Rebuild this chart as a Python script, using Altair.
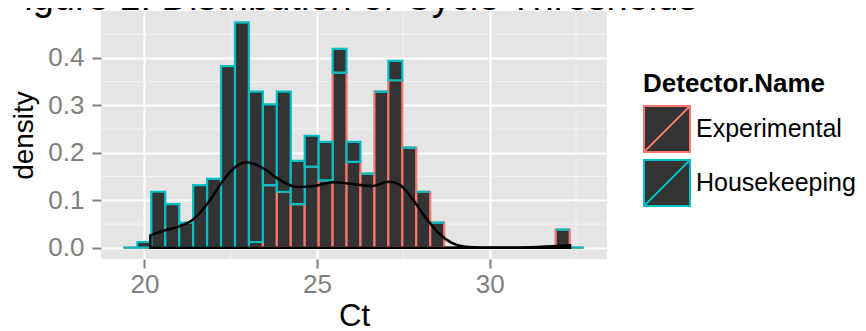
import altair as alt
import pandas as pd

FONT = "Liberation Sans"

title_text = ["Figure 1: Distribution of Cycle Thresholds"]

# Histogram bins (Ct) and stacked densities
bin_start = 19.39
bin_width = 0.404
groups = ["Experimental", "Housekeeping"]
experimental = [0, 0, 0, 0, 0, 0, 0, 0, 0, 0.012, 0.132, 0.118, 0.092, 0.171, 0.142,
                0.369, 0.181, 0.156, 0.329, 0.353, 0.211, 0.118, 0.053, 0, 0, 0, 0, 0,
                0, 0, 0, 0.038, 0]
housekeeping = [0, 0.012, 0.118, 0.092, 0.053, 0.132, 0.145, 0.383, 0.475, 0.317, 0.170,
                0.211, 0.091, 0.065, 0.081, 0.050, 0.042, 0, 0, 0.041, 0, 0, 0, 0, 0,
                0, 0, 0, 0, 0, 0, 0, 0]

# Overall density curve
density_ct = [20.17, 20.61, 21.09, 21.38, 21.67, 21.96, 22.25, 22.60, 22.97, 23.45,
              23.94, 24.42, 24.90, 25.48, 25.96, 26.59, 27.07, 27.41, 27.75, 28.13,
              28.52, 28.90, 29.29, 29.80, 30.50, 31.20, 31.80, 32.33]
density_val = [0.026, 0.037, 0.047, 0.058, 0.079, 0.107, 0.139, 0.168, 0.180, 0.167,
               0.142, 0.128, 0.130, 0.138, 0.135, 0.130, 0.139, 0.132, 0.104, 0.065,
               0.031, 0.010, 0.002, 0.0005, 0.0003, 0.001, 0.003, 0.005]

x_ticks = [20, 25, 30]
y_ticks = [0.0, 0.1, 0.2, 0.3, 0.4]
x_minor = [22.5, 27.5, 32.5]
y_minor = [0.05, 0.15, 0.25, 0.35, 0.45]

rows = []
for order, (g, vals) in enumerate(zip(groups, [experimental, housekeeping])):
    for i, v in enumerate(vals):
        rows.append({"lo": bin_start + i * bin_width, "hi": bin_start + (i + 1) * bin_width,
                     "detector": g, "density": v, "order": order})
hist_df = pd.DataFrame(rows)
dens_df = pd.DataFrame({"Ct": density_ct, "density": density_val})

xscale = alt.Scale(domain=[18.74, 33.40], nice=False, zero=False)
yscale = alt.Scale(domain=[-0.0238, 0.499], nice=False, zero=False)

x_axis = alt.Axis(values=x_ticks, format="d", title="Ct", grid=True, gridColor="white",
                  gridWidth=2, domain=False, tickColor="#7F7F7F", tickSize=9, tickWidth=2,
                  labelColor="#7F7F7F", labelFontSize=26, labelFont=FONT, labelPadding=3,
                  titleFontSize=31, titleFont=FONT, titleFontWeight="normal",
                  titleColor="black", titleY=66, titleBaseline="alphabetic")
y_axis = alt.Axis(values=y_ticks, format=".1f", title="density", grid=True, gridColor="white",
                  gridWidth=2, domain=False, tickColor="#7F7F7F", tickSize=9, tickWidth=2,
                  labelColor="#7F7F7F", labelFontSize=26, labelFont=FONT, labelPadding=8,
                  titleFontSize=28, titleFont=FONT, titleFontWeight="normal",
                  titleColor="black", titleX=-69, titleY=124, titleBaseline="alphabetic",
                  titleAngle=-90)

minor_x = alt.Chart(pd.DataFrame({"v": x_minor})).mark_rule(
    color="#F2F2F2", strokeWidth=1).encode(x=alt.X("v:Q", scale=xscale, axis=x_axis))
minor_y = alt.Chart(pd.DataFrame({"v": y_minor})).mark_rule(
    color="#F2F2F2", strokeWidth=1).encode(y=alt.Y("v:Q", scale=yscale, axis=y_axis))

stacked = alt.Chart(hist_df).transform_stack(
    stack="density", groupby=["lo"], as_=["y0", "y1"],
    sort=[alt.SortField("order", order="ascending")])

stroke_enc = alt.Stroke(
    "detector:N",
    scale=alt.Scale(domain=groups, range=["#F8766D", "#00BFC4"]),
    legend=alt.Legend(title="Detector.Name", orient="none", legendX=542, legendY=60,
                      titleFontSize=26, titleFont=FONT, titleFontWeight="bold",
                      titleColor="black", titlePadding=8, titleLimit=600,
                      labelFontSize=25, labelFont=FONT, labelLimit=600,
                      labelColor="black", labelOffset=5,
                      symbolType="M-1,-1H1V1H-1Z M-1,1L1,-1", symbolSize=2116,
                      symbolStrokeWidth=2, symbolFillColor="#333333", symbolOpacity=1,
                      rowPadding=0, padding=0))

def bars(group):
    return stacked.transform_filter(alt.datum.detector == group).mark_rect(
        fill="#333333", strokeWidth=2.2).encode(
        x=alt.X("lo:Q", scale=xscale, axis=x_axis),
        x2="hi:Q",
        y=alt.Y("y0:Q", scale=yscale, axis=y_axis),
        y2="y1:Q",
        stroke=stroke_enc)

dens = alt.Chart(dens_df).mark_area(
    fillOpacity=0, stroke="black", strokeWidth=2.5, interpolate="monotone").encode(
    x=alt.X("Ct:Q", scale=xscale, axis=x_axis),
    y=alt.Y("density:Q", scale=yscale, axis=y_axis))

# Plot title: in the reference it sits at the very top and is mostly cut off
title_mark = alt.Chart(pd.DataFrame({"t": title_text})).mark_text(
    align="left", baseline="alphabetic", fontSize=38, font=FONT, color="black").encode(
    text="t:N", x=alt.value(-100), y=alt.value(-1))

chart = alt.layer(minor_x, minor_y, bars("Experimental"), bars("Housekeeping"), dens,
                  title_mark).properties(
    width=506, height=248,
    autosize=alt.AutoSizeParams(type="none"),
    padding={"left": 93, "top": 3, "right": 251, "bottom": 72},
).configure(font=FONT).configure_view(fill="#E5E5E5", strokeWidth=0)

chart.save("out.html", embed_options={"renderer": "svg", "actions": False})
